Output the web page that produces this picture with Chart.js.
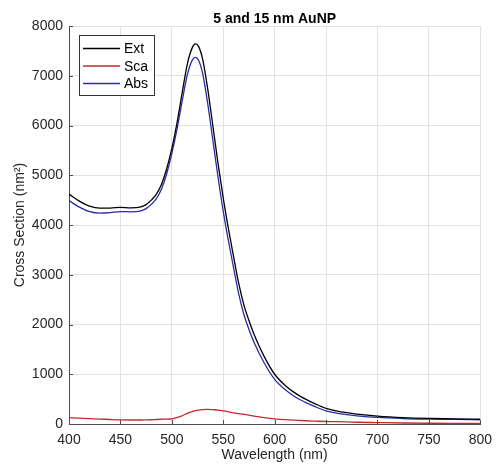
<!DOCTYPE html>
<html>
<head>
<meta charset="utf-8">
<script src="https://cdn.jsdelivr.net/npm/chart.js@4.4.0/dist/chart.umd.min.js"></script>
<style>
  html, body { margin: 0; padding: 0; background: #fff; }
  #wrap { width: 500px; height: 465px; }
</style>
</head>
<body>
<div id="wrap"><canvas id="chart" width="500" height="465"></canvas></div>
<script>
// wavelength grid (nm) shared by the three spectra
const wavelength = [400, 410, 420, 430, 440, 450, 460, 470, 475, 480, 485, 490, 495, 500, 505, 510, 515, 520, 523, 526, 530, 535, 540, 545, 550, 555, 560, 565, 570, 575, 580, 590, 600, 610, 620, 630, 640, 650, 660, 670, 680, 700, 725, 750, 775, 800];
const extValues = [4620, 4480, 4380, 4340, 4340, 4355, 4345, 4365, 4410, 4500, 4620, 4820, 5130, 5540, 6050, 6650, 7230, 7570, 7640, 7590, 7330, 6720, 5980, 5230, 4540, 3930, 3370, 2830, 2400, 2080, 1800, 1350, 1000, 780, 620, 500, 400, 315, 265, 228, 200, 160, 130, 114, 105, 95];
const scaValues = [127, 118, 108, 100, 90, 82, 80, 80, 82, 85, 90, 95, 100, 105, 130, 165, 215, 250, 268, 280, 290, 295, 288, 280, 265, 245, 225, 210, 195, 178, 160, 130, 105, 88, 76, 65, 57, 50, 46, 41, 35, 28, 20, 15, 12, 10];
const absValues = [4490, 4360, 4270, 4240, 4250, 4270, 4265, 4285, 4330, 4415, 4530, 4725, 5030, 5435, 5920, 6485, 7015, 7320, 7370, 7310, 7040, 6425, 5690, 4950, 4275, 3685, 3145, 2620, 2205, 1900, 1640, 1220, 895, 692, 544, 435, 343, 265, 219, 187, 165, 132, 110, 99, 93, 85];

const xTicks = [400, 450, 500, 550, 600, 650, 700, 750, 800];
const yTicks = [0, 1000, 2000, 3000, 4000, 5000, 6000, 7000, 8000];

const FONT = '"Liberation Sans", Arial, Helvetica, sans-serif';
const AXIS = '#4d4d4d';
const TEXT = '#262626';

function pts(values) {
  return wavelength.map((w, i) => ({ x: w, y: values[i] }));
}

// title centred over the axes box, like MATLAB does it
const axesTitle = {
  id: 'axesTitle',
  afterDraw(chart) {
    const { ctx, chartArea } = chart;
    ctx.save();
    ctx.font = 'bold 14px ' + FONT;
    ctx.fillStyle = '#000';
    ctx.textAlign = 'center';
    ctx.textBaseline = 'alphabetic';
    ctx.fillText('5 and 15 nm AuNP', (chartArea.left + chartArea.right) / 2, 23);
    ctx.restore();
  },
};

// inward tick marks on the left and bottom axes
const innerTicks = {
  id: 'innerTicks',
  afterDatasetsDraw(chart) {
    const { ctx, chartArea, scales } = chart;
    ctx.save();
    ctx.strokeStyle = AXIS;
    ctx.lineWidth = 1;
    ctx.beginPath();
    xTicks.forEach((v) => {
      const px = Math.round(scales.x.getPixelForValue(v)) + 0.5;
      ctx.moveTo(px, chartArea.bottom);
      ctx.lineTo(px, chartArea.bottom - 4);
    });
    yTicks.forEach((v) => {
      const py = Math.round(scales.y.getPixelForValue(v)) + 0.5;
      ctx.moveTo(chartArea.left, py);
      ctx.lineTo(chartArea.left + 4, py);
    });
    ctx.stroke();
    ctx.restore();
  },
};

// boxed legend in the upper left corner of the axes
const boxLegend = {
  id: 'boxLegend',
  afterDraw(chart) {
    const { ctx, chartArea } = chart;
    const x0 = chartArea.left + 10;
    const y0 = chartArea.top + 9;
    ctx.save();
    ctx.fillStyle = '#fff';
    ctx.fillRect(x0, y0, 75, 60);
    ctx.strokeStyle = '#333';
    ctx.lineWidth = 1;
    ctx.strokeRect(x0 + 0.5, y0 + 0.5, 75, 60);
    ctx.font = '14px ' + FONT;
    ctx.textBaseline = 'middle';
    ctx.textAlign = 'left';
    chart.data.datasets.forEach((ds, i) => {
      const y = y0 + 13.5 + i * 17.5;
      ctx.strokeStyle = ds.borderColor;
      ctx.lineWidth = 1.3;
      ctx.beginPath();
      ctx.moveTo(x0 + 4, y);
      ctx.lineTo(x0 + 41, y);
      ctx.stroke();
      ctx.fillStyle = '#000';
      ctx.fillText(ds.label, x0 + 45, y + 1);
    });
    ctx.restore();
  },
};

new Chart(document.getElementById('chart'), {
  type: 'line',
  data: {
    datasets: [
      { label: 'Ext', data: pts(extValues), borderColor: '#000000' },
      { label: 'Sca', data: pts(scaValues), borderColor: '#c42a2e' },
      { label: 'Abs', data: pts(absValues), borderColor: '#2b2ba6' },
    ],
  },
  options: {
    responsive: false,
    animation: false,
    events: [],
    layout: { padding: { top: 26, right: 14, bottom: 0, left: 0 } },
    elements: {
      point: { radius: 0 },
      line: { borderWidth: 1.3, cubicInterpolationMode: 'monotone', fill: false },
    },
    plugins: {
      legend: { display: false },
      tooltip: { enabled: false },
    },
    scales: {
      x: {
        type: 'linear',
        min: 400,
        max: 800,
        afterBuildTicks: (scale) => { scale.ticks = xTicks.map((v) => ({ value: v })); },
        afterFit: (scale) => { scale.height = 41; },
        grid: { color: '#e2e2e2', drawTicks: false },
        border: { color: AXIS, width: 1 },
        ticks: { color: TEXT, font: { family: FONT, size: 14 }, padding: 8, maxRotation: 0, callback: (v) => String(v) },
        title: {
          display: true,
          text: 'Wavelength (nm)',
          color: TEXT,
          font: { family: FONT, size: 14 },
          padding: { top: 0, bottom: 1 },
        },
      },
      y: {
        min: 0,
        max: 8000,
        afterBuildTicks: (scale) => { scale.ticks = yTicks.map((v) => ({ value: v })); },
        afterFit: (scale) => { scale.width = 69; },
        grid: { color: '#e2e2e2', drawTicks: false },
        border: { color: AXIS, width: 1 },
        ticks: { color: TEXT, font: { family: FONT, size: 14 }, padding: 6, callback: (v) => String(v) },
        title: {
          display: true,
          text: 'Cross Section (nm²)',
          color: TEXT,
          font: { family: FONT, size: 14 },
          padding: { top: 12, bottom: 0 },
        },
      },
    },
  },
  plugins: [axesTitle, innerTicks, boxLegend],
});
</script>
</body>
</html>
